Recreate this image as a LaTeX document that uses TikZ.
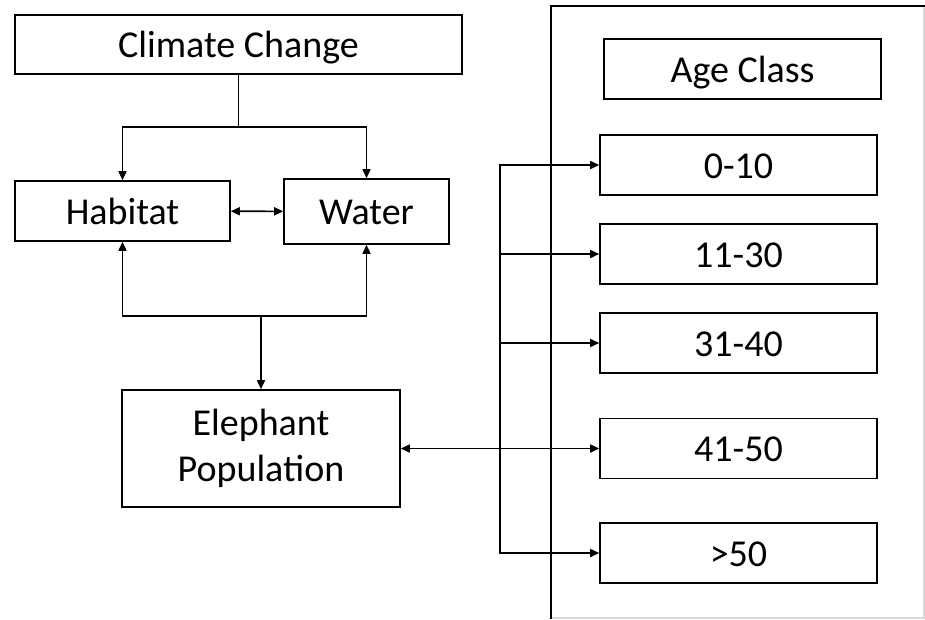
\documentclass[tikz,border=0pt]{standalone}
\usepackage{fontspec}
\setmainfont{Carlito}
\usepackage{tikz}
\usetikzlibrary{positioning}
\usetikzlibrary{arrows.meta}
\tikzstyle{factor} = [rectangle, draw, line width=1.6pt, text centered, inner sep=0pt, font=\fontsize{38}{46}\selectfont]
\tikzstyle{single} = [factor, text height=26pt, text depth=0pt]
\tikzstyle{ageBox} = [single, minimum width=277pt, minimum height=60pt]
\tikzstyle{link} = [line width=1.6pt, -{Triangle[length=9pt, width=8pt]}]

\begin{document}
\begin{tikzpicture}[x=1pt, y=-1pt]
    \useasboundingbox (0,0) rectangle (925,619);
    % age class frame
    \draw [line width=1.6pt, black!15] (551,6) -- (924,6) -- (924,618) -- (551,618);
    \draw [line width=1.6pt] (551,619) -- (551,6) -- (925,6);

    \node (climate) at (238.5,44.5) [single, minimum width=447pt, minimum height=59pt] {Climate Change};
    \node (habitat) at (122.5,211) [single, minimum width=215pt, minimum height=60pt] {Habitat};
    \node (water) at (366.5,211.5) [single, minimum width=165pt, minimum height=65pt] {Water};
    \node (elephant) at (261,448.5) [factor, minimum width=278pt, minimum height=117pt, align=center] {Elephant\\Population};

    \node (ageClass) at (742.5,69) [ageBox] {Age Class};
    \node (age1) at (738.5,165) [ageBox] {0-10};
    \node (age2) at (738.5,254) [ageBox] {11-30};
    \node (age3) at (738.5,343) [ageBox] {31-40};
    \node (age4) at (738.5,448.5) [ageBox] {41-50};
    \node (age5) at (738.5,553) [ageBox] {>50};

    \coordinate (split) at (238.5,127);
    \coordinate (merge) at (261,316);
    \coordinate (bus) at (500,448.5);

    \draw [line width=1.6pt] (climate.south) -- (split);
    \draw [link] (split) -| (habitat.north);
    \draw [link] (split) -| (water.north);
    \draw [link, {Triangle[length=9pt, width=8pt]}-{Triangle[length=9pt, width=8pt]}] (habitat) -- (water);
    \draw [link] (merge) -| (habitat.south);
    \draw [link] (merge) -| (water.south);
    \draw [link] (merge) -- (elephant.north);
    \draw [link] (bus) -- (elephant.east);
    \foreach \age in {age1,age2,age3,age4,age5}
        \draw [link] (bus) |- (\age.west);
\end{tikzpicture}
\end{document}
